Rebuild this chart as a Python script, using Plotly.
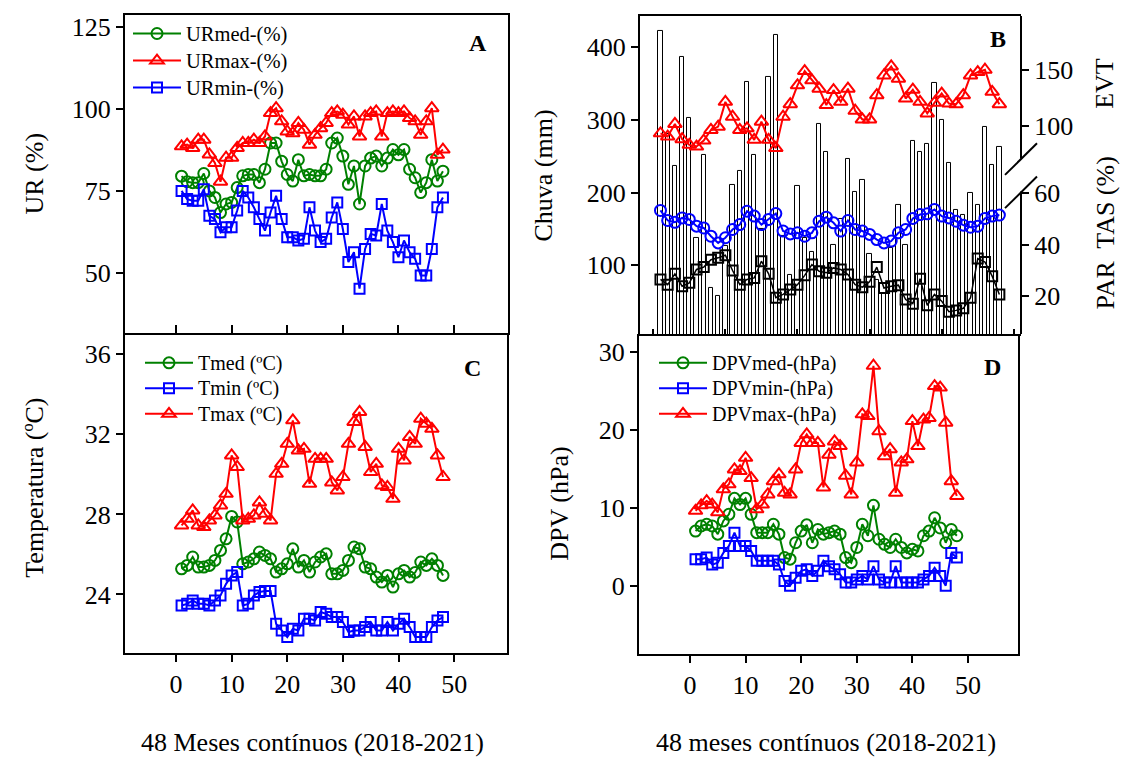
import plotly.graph_objects as go

W, H = 1125, 758
FONT = "Liberation Serif"


def px(x):
    return x / W


def py(y):
    return 1 - y / H


months = list(range(1, 49))

# ---- Panel A : relative humidity (%)
ur_med = [79.5, 77.8, 77.5, 77.5, 80.3, 75.0, 73.0, 68.4, 71.0, 71.5, 76.0, 79.6,
          80.0, 80.0, 77.5, 81.6, 89.6, 89.6, 84.0, 80.0, 78.0, 84.5, 79.6, 80.0,
          79.6, 79.6, 81.6, 89.6, 91.1, 85.6, 77.0, 82.6, 71.0, 82.6, 85.0, 85.6,
          82.6, 85.0, 87.6, 86.0, 87.6, 81.6, 79.0, 74.5, 77.5, 84.5, 78.0, 81.0]
ur_max = [88.6, 89.1, 88.1, 90.6, 90.6, 86.1, 83.5, 77.8, 85.1, 85.1, 88.1, 89.6,
          89.6, 90.6, 89.6, 91.6, 98.7, 100.2, 96.2, 93.1, 92.6, 95.7, 93.6, 89.1,
          92.1, 94.1, 95.7, 98.7, 99.2, 98.2, 95.2, 97.7, 91.6, 97.7, 98.7, 99.2,
          91.6, 98.7, 99.2, 98.7, 99.2, 97.2, 96.2, 92.1, 96.2, 100.2, 86.0, 87.6]
ur_min = [75.0, 72.5, 72.0, 72.0, 75.5, 67.4, 66.4, 62.4, 63.9, 63.9, 69.0, 75.0,
          73.0, 70.0, 66.4, 62.9, 68.4, 73.5, 66.4, 60.9, 60.9, 59.9, 60.4, 70.0,
          62.9, 59.4, 60.4, 66.9, 71.5, 63.4, 53.3, 56.3, 45.2, 57.3, 61.9, 61.4,
          71.0, 62.9, 59.4, 54.8, 59.9, 56.3, 54.3, 49.2, 49.2, 57.3, 70.0, 73.0]

# ---- Panel B : rainfall (mm), EVT, PAR / TAS (%)
chuva = [422, 281, 236, 386, 303, 137, 251, 69, 58, 126, 210, 229,
         352, 252, 150, 359, 417, 140, 87, 209, 137, 119, 294, 256,
         128, 163, 246, 201, 217, 115, 80, 60, 124, 183, 128, 271,
         256, 267, 351, 300, 241, 176, 169, 199, 183, 290, 238, 262]
evt = [93.1, 90.2, 101.5, 87.8, 82.7, 81.2, 86.6, 96.1, 99.1, 121.4, 108.0, 96.1,
       97.6, 87.2, 103.6, 87.2, 79.8, 108.0, 119.3, 136.3, 149.1, 140.8, 133.3, 118.5,
       132.0, 121.4, 133.3, 113.4, 105.6, 105.6, 127.4, 145.2, 153.3, 142.3, 124.4, 132.4,
       121.4, 111.0, 120.5, 128.9, 119.9, 119.3, 127.4, 145.2, 148.2, 150.3, 130.4, 119.3]
tas_blue = [53.3, 49.4, 48.7, 50.4, 49.8, 47.2, 46.5, 43.3, 40.7, 42.7, 45.9, 47.8,
            53.0, 51.1, 47.8, 49.8, 52.1, 45.3, 44.2, 44.6, 43.3, 44.6, 49.1, 50.7,
            48.5, 45.3, 49.4, 45.9, 45.3, 44.0, 42.0, 40.7, 41.4, 44.6, 45.9, 50.2,
            51.7, 52.0, 53.7, 51.1, 50.4, 49.1, 47.6, 46.8, 47.2, 50.2, 51.1, 51.5]
par_black = [26.5, 24.5, 28.7, 23.9, 25.2, 30.4, 31.3, 34.2, 34.9, 35.9, 30.0, 24.5,
             26.5, 27.1, 33.6, 28.7, 19.4, 20.7, 22.6, 24.5, 28.1, 32.3, 29.7, 29.1,
             31.0, 30.4, 28.4, 24.5, 23.5, 25.6, 31.3, 23.2, 23.9, 24.3, 18.7, 17.1,
             26.8, 16.5, 20.7, 18.1, 14.0, 14.5, 15.3, 19.4, 34.6, 33.3, 27.8, 20.7]

# ---- Panel C : temperature (ºC)
t_med = [25.28, 25.45, 25.87, 25.37, 25.37, 25.45, 25.7, 26.2, 26.78, 27.9, 27.62, 25.53,
         25.62, 25.78, 26.12, 25.95, 25.78, 25.12, 25.28, 25.53, 26.28, 25.37, 25.7, 25.12,
         25.62, 25.87, 26.03, 25.03, 25.03, 25.2, 25.7, 26.37, 26.28, 25.37, 25.28, 24.87,
         24.62, 24.95, 24.37, 25.03, 25.2, 24.87, 25.1, 25.62, 25.45, 25.78, 25.45, 24.95]
t_min = [23.45, 23.53, 23.7, 23.53, 23.53, 23.45, 23.7, 23.95, 24.53, 24.95, 25.12, 23.45,
         23.53, 23.95, 24.12, 24.17, 24.17, 22.53, 22.2, 21.87, 22.28, 22.2, 22.78, 22.78,
         22.7, 23.12, 23.03, 22.87, 22.87, 22.62, 22.12, 22.2, 22.2, 22.37, 22.62, 22.2,
         22.2, 22.62, 22.2, 22.53, 22.78, 22.37, 21.87, 21.87, 21.87, 22.37, 22.7, 22.87]
t_max = [27.45, 27.78, 28.2, 27.45, 27.37, 27.7, 27.95, 28.45, 29.03, 30.95, 30.37, 27.7,
         27.78, 27.95, 28.6, 28.03, 27.7, 30.03, 30.53, 31.53, 32.7, 31.2, 31.28, 29.53,
         30.78, 30.78, 30.78, 29.6, 29.2, 29.87, 31.53, 32.62, 33.12, 31.37, 30.12, 30.53,
         29.45, 29.37, 28.78, 31.28, 30.7, 31.87, 31.53, 32.78, 32.53, 32.28, 30.95, 29.87]

# ---- Panel D : vapour pressure deficit (hPa)
dpv_med = [7.0, 7.65, 7.87, 7.65, 6.6, 8.3, 9.15, 11.2, 10.4, 11.2, 9.15, 6.8,
           6.8, 6.8, 7.87, 6.6, 3.6, 3.4, 5.5, 7.0, 7.8, 5.5, 7.2, 6.6,
           6.8, 7.0, 6.6, 3.6, 2.95, 4.9, 7.87, 6.4, 10.3, 5.95, 5.3, 4.9,
           5.95, 4.9, 4.2, 4.66, 4.45, 6.4, 7.0, 8.7, 7.4, 5.5, 7.2, 6.4]
dpv_min = [3.4, 3.4, 3.6, 2.7, 2.95, 4.2, 5.1, 6.8, 5.1, 5.1, 4.45, 3.2,
           3.2, 3.2, 3.2, 2.7, 0.6, 0.0, 1.0, 1.9, 2.1, 1.25, 1.9, 3.2,
           2.5, 2.1, 1.45, 0.4, 0.4, 0.8, 1.25, 0.8, 2.5, 0.8, 0.4, 0.4,
           2.5, 0.4, 0.4, 0.4, 0.4, 0.8, 1.25, 2.3, 1.25, 0.0, 4.2, 3.6]
dpv_max = [9.6, 10.3, 10.85, 10.4, 9.4, 12.35, 13.0, 14.9, 14.7, 16.4, 13.8, 9.8,
           10.4, 11.7, 13.4, 14.3, 11.9, 11.7, 14.9, 18.3, 19.4, 18.3, 18.3, 12.6,
           16.8, 18.5, 17.9, 14.1, 11.7, 15.8, 21.97, 21.75, 28.2, 19.8, 16.6, 17.5,
           11.9, 15.8, 16.2, 21.1, 17.9, 21.3, 21.5, 25.6, 25.4, 20.9, 13.4, 11.5]

GREEN, RED, BLUE, BLACK = "#008000", "#ff0000", "#0000ff", "#000000"

fig = go.Figure()


def add_series(x, y, name, color, symbol, xa, ya, legend=None, size=11, lw=2, mlw=2, label_px=20):
    shown = legend is not None
    fig.add_trace(go.Scatter(
        x=x, y=y,
        name=f"<span style='font-size:{label_px}px'>{name}</span>" if shown else name,
        mode="lines+markers",
        line=dict(color=color, width=lw),
        marker=dict(symbol=symbol, size=size, color=color, line=dict(color=color, width=mlw)),
        xaxis=xa, yaxis=ya,
        showlegend=shown, legend=legend or "legend",
    ))


# A
add_series(months, ur_med, "URmed-(%)", GREEN, "circle-open", "x", "y", "legend", label_px=20.5)
add_series(months, ur_max, "URmax-(%)", RED, "triangle-up-open", "x", "y", "legend", size=12, label_px=20.5)
add_series(months, ur_min, "URmin-(%)", BLUE, "square-open", "x", "y", "legend", size=10, label_px=20.5)

# B
fig.add_trace(go.Bar(x=months, y=chuva, width=0.6, marker=dict(color="white", line=dict(color="black", width=1)),
                     xaxis="x2", yaxis="y2", showlegend=False))
add_series(months, evt, "EVT", RED, "triangle-up-open", "x2", "y3", size=12)
add_series(months, tas_blue, "TAS", BLUE, "circle-open", "x2", "y4", size=11)
add_series(months, par_black, "PAR", BLACK, "square-open", "x2", "y4", size=10, lw=1.5)

# C
add_series(months, t_med, "Tmed (ºC)", GREEN, "circle-open", "x3", "y5", "legend2")
add_series(months, t_min, "Tmin (ºC)", BLUE, "square-open", "x3", "y5", "legend2", size=10)
add_series(months, t_max, "Tmax (ºC)", RED, "triangle-up-open", "x3", "y5", "legend2", size=12)

# D
add_series(months, dpv_med, "DPVmed-(hPa)", GREEN, "circle-open", "x4", "y6", "legend3")
add_series(months, dpv_min, "DPVmin-(hPa)", BLUE, "square-open", "x4", "y6", "legend3", size=10)
add_series(months, dpv_max, "DPVmax-(hPa)", RED, "triangle-up-open", "x4", "y6", "legend3", size=12)

tickfont = dict(family=FONT, size=26, color="black")
common = dict(showgrid=False, zeroline=False, linecolor="black", linewidth=2,
              tickcolor="black", tickwidth=2, tickfont=tickfont)

xt = [0, 10, 20, 30, 40, 50]
fig.update_layout(
    width=W, height=H, autosize=False,
    margin=dict(l=0, r=0, t=0, b=0),
    paper_bgcolor="white", plot_bgcolor="white",
    bargap=0,
    # A
    xaxis=dict(domain=[px(125), px(508)], range=[-9.17, 59.7], anchor="y", showline=True, mirror=True,
               ticks="inside", ticklen=8, tickvals=xt, showticklabels=False, **common),
    yaxis=dict(domain=[py(332), py(12.7)], range=[31.66, 128.7], anchor="x", showline=True, mirror=True,
               ticks="outside", ticklen=7, tickvals=[50, 75, 100, 125], **common),
    # B
    xaxis2=dict(domain=[px(640), px(1021)], range=[-1.84, 51.0], anchor="y2", showline=True, mirror=True,
                ticks="inside", ticklen=5, tickvals=xt, showticklabels=False, **common),
    yaxis2=dict(domain=[py(333), py(14)], range=[5.5, 442.5], anchor="x2", showline=True, mirror=False,
                ticks="outside", ticklen=7, tickvals=[100, 200, 300, 400], **common),
    yaxis3=dict(domain=[py(333), py(14)], range=[-87.6, 198.7], anchor="x2", overlaying="y2", side="right",
                showline=False, ticks="outside", ticklen=7, tickvals=[100, 150], **common),
    yaxis4=dict(domain=[py(333), py(14)], range=[5.29, 128.8], anchor="x2", overlaying="y2", side="right",
                showline=False, ticks="outside", ticklen=7, tickvals=[20, 40, 60], **common),
    # C
    xaxis3=dict(domain=[px(125), px(507)], range=[-9.17, 59.5], anchor="y5", showline=True, mirror=True,
                ticks="outside", ticklen=7, tickvals=xt, **common),
    yaxis5=dict(domain=[py(653), py(334)], range=[21.06, 36.96], anchor="x3", showline=True, mirror=True,
                ticks="outside", ticklen=7, tickvals=[24, 28, 32, 36], **common),
    # D
    xaxis4=dict(domain=[px(639), px(1018)], range=[-9.17, 59.0], anchor="y6", showline=True, mirror=True,
                ticks="outside", ticklen=7, tickvals=xt, **common),
    yaxis6=dict(domain=[py(654), py(335)], range=[-8.8, 32.0], anchor="x4", showline=True, mirror=True,
                ticks="outside", ticklen=7, tickvals=[0, 10, 20, 30], **common),
)

fig.update_layout(
    legend=dict(x=px(128), y=py(13), xanchor="left", yanchor="top",
                font=dict(family=FONT, size=18.5, color="black"),
                bgcolor="rgba(0,0,0,0)", tracegroupgap=0, itemwidth=48),
    legend2=dict(x=px(140), y=py(344), xanchor="left", yanchor="top",
                 font=dict(family=FONT, size=17.3, color="black"),
                 bgcolor="rgba(0,0,0,0)", tracegroupgap=0, itemwidth=48),
    legend3=dict(x=px(654), y=py(344), xanchor="left", yanchor="top",
                 font=dict(family=FONT, size=17.3, color="black"),
                 bgcolor="rgba(0,0,0,0)", tracegroupgap=0, itemwidth=48),
)

# right spine of panel B with axis break
shapes = []
for y0, y1 in [(14, 157), (190, 333)]:
    shapes.append(dict(type="line", xref="paper", yref="paper", x0=px(1021), x1=px(1021),
                       y0=py(y0), y1=py(y1), line=dict(color="black", width=2)))
for (x0, y0, x1, y1) in [(1005, 173.3, 1037, 141.7), (1005, 206.7, 1037, 175)]:
    shapes.append(dict(type="line", xref="paper", yref="paper", x0=px(x0), x1=px(x1),
                       y0=py(y0), y1=py(y1), line=dict(color="black", width=2)))
fig.update_layout(shapes=shapes)

ann = []


def text(x, y, s, size=26, angle=0, bold=False):
    ann.append(dict(x=px(x), y=py(y), xref="paper", yref="paper", text=f"<b>{s}</b>" if bold else s,
                    showarrow=False, textangle=angle, xanchor="center", yanchor="middle",
                    font=dict(family=FONT, size=size, color="black")))


text(35, 172, "UR (%)", angle=-90)
text(544, 174, "Chuva (mm)", angle=-90)
text(35, 487, "Temperatura (ºC)", angle=-90)
text(560, 503, "DPV (hPa)", angle=-90)
text(1105, 82, "EVT", angle=-90)
text(1105, 232, "PAR  TAS (%)", angle=-90)
text(312, 742, "48 Meses contínuos (2018-2021)")
text(826, 742, "48 meses contínuos (2018-2021)")
text(478, 41, "A", size=24, bold=True)
text(998, 37, "B", size=24, bold=True)
text(472, 367, "C", size=24, bold=True)
text(992, 366, "D", size=24, bold=True)
fig.update_layout(annotations=ann)

fig.write_html("out.html")
